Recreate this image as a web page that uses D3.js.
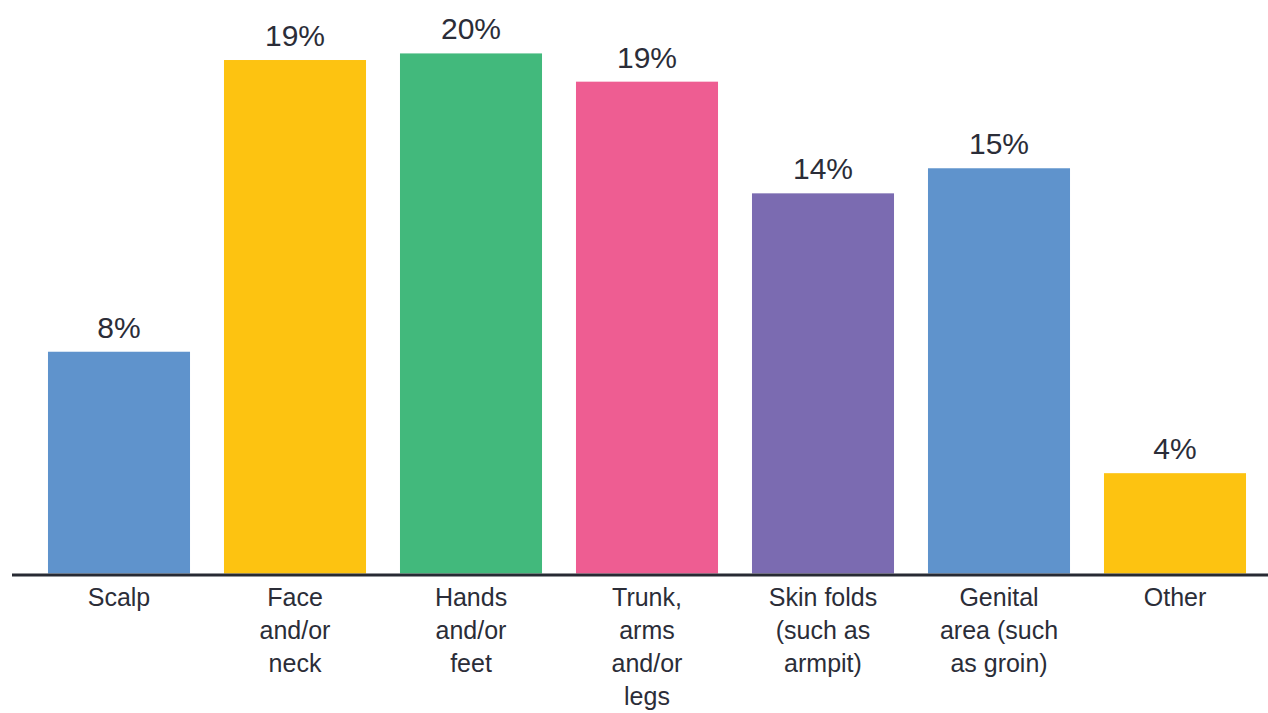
<!DOCTYPE html>
<html>
<head>
<meta charset="utf-8">
<script src="https://cdn.jsdelivr.net/npm/d3@7"></script>
<style>
  html, body { margin: 0; padding: 0; background: #ffffff; }
  svg { display: block; }
  text { font-family: "Liberation Sans", Arial, sans-serif; fill: #2b2d38; }
</style>
</head>
<body>
<svg id="chart" width="1268" height="713"></svg>
<script>
const categories = ["Scalp", "Face and/or neck", "Hands and/or feet", "Trunk, arms and/or legs", "Skin folds (such as armpit)", "Genital area (such as groin)", "Other"];
const categoryLines = [
  ["Scalp"],
  ["Face", "and/or", "neck"],
  ["Hands", "and/or", "feet"],
  ["Trunk,", "arms", "and/or", "legs"],
  ["Skin folds", "(such as", "armpit)"],
  ["Genital", "area (such", "as groin)"],
  ["Other"]
];
const values = [8.4, 19.45, 19.7, 18.63, 14.4, 15.35, 3.8];
const valueLabels = ["8%", "19%", "20%", "19%", "14%", "15%", "4%"];
const colors = ["#5f93cc", "#fdc311", "#42b97c", "#ee5d92", "#7b6bb1", "#5f93cc", "#fdc311"];

const W = 1268, H = 713;
const baseline = 573.5;
const svg = d3.select("#chart");

const x = d3.scaleBand()
  .domain(categories)
  .range([31, 1263])
  .paddingInner(0.193)
  .paddingOuter(0.0965);

const y = d3.scaleLinear()
  .domain([0, 20])
  .range([baseline, baseline - 528]);

const data = categories.map((c, i) => ({ c, v: values[i], label: valueLabels[i], color: colors[i], lines: categoryLines[i] }));

svg.append("g").selectAll("rect")
  .data(data)
  .join("rect")
  .attr("x", d => x(d.c))
  .attr("y", d => y(d.v))
  .attr("width", x.bandwidth())
  .attr("height", d => y(0) - y(d.v))
  .attr("fill", d => d.color);

svg.append("g").selectAll("text")
  .data(data)
  .join("text")
  .attr("x", d => x(d.c) + x.bandwidth() / 2)
  .attr("y", d => y(d.v) - 14)
  .attr("text-anchor", "middle")
  .attr("font-size", 30)
  .text(d => d.label);

// axis
const axis = d3.axisBottom(x).tickSize(0).tickFormat(() => "");
const gAxis = svg.append("g")
  .attr("transform", `translate(0,${baseline + 1.5})`)
  .call(axis);
gAxis.select(".domain").remove();

gAxis.selectAll(".tick").each(function(d, i) {
  const t = d3.select(this).append("text")
    .attr("text-anchor", "middle")
    .attr("font-size", 25)
    .attr("y", 30.5);
  categoryLines[i].forEach((ln, j) => {
    t.append("tspan").attr("x", 0).attr("dy", j === 0 ? 0 : 33).text(ln);
  });
});

svg.append("line")
  .attr("x1", 12).attr("x2", W)
  .attr("y1", baseline + 1.5).attr("y2", baseline + 1.5)
  .attr("stroke", "#272a33")
  .attr("stroke-width", 3);
</script>
</body>
</html>
